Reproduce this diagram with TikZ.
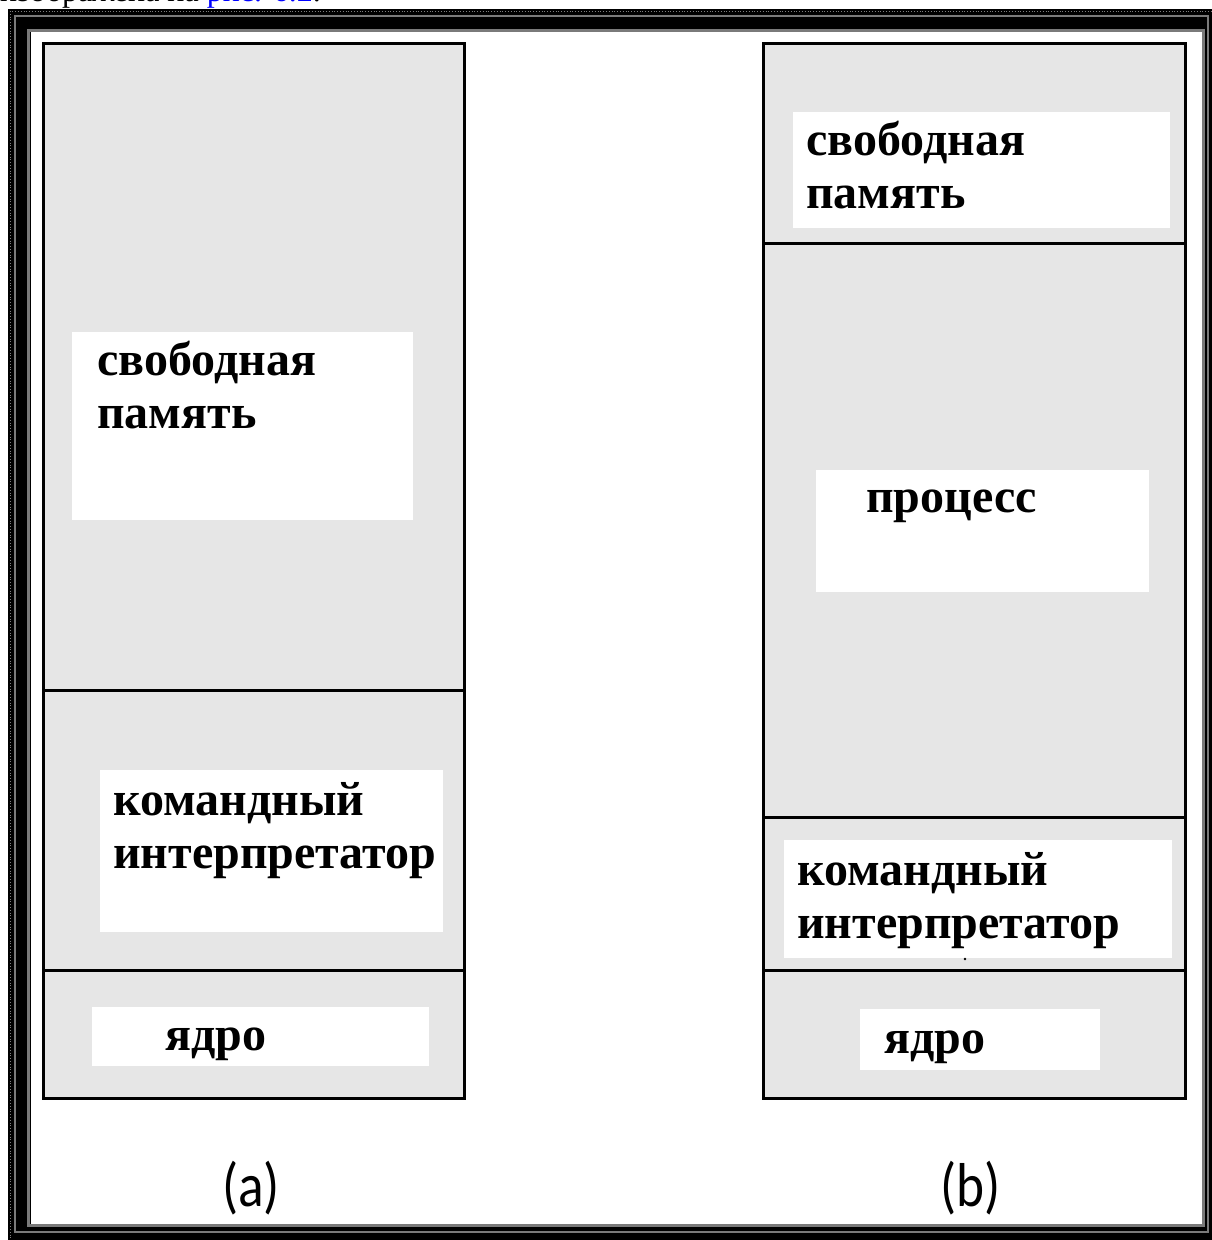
\documentclass[tikz,border=0pt]{standalone}
\usepackage{fontspec}
\setmainfont{Liberation Serif}
\newfontfamily\capfont{Carlito}
\begin{document}
\begin{tikzpicture}[x=1pt,y=-1pt,
  column/.style={draw=black,line width=3pt,fill=memgray},
  divider/.style={draw=black,line width=3pt},
  label/.style={fill=white,inner sep=0pt},
  word/.style={anchor=base west,inner sep=0pt,font=\fontsize{48}{53}\selectfont\bfseries},
  caption/.style={anchor=center,inner sep=0pt,font=\capfont\fontsize{62}{66}\selectfont}]
\definecolor{memgray}{HTML}{E6E6E6}
\definecolor{framegray}{HTML}{7A7A7A}
\useasboundingbox (0,0) rectangle (1212,1240);
\fill[white] (0,0) rectangle (1212,1240);

% line of running text above the frame, cut by the page edge
\begin{scope}
  \clip (0,0) rectangle (1212,8.5);
  \node[anchor=base west,inner sep=0pt,font=\fontsize{32}{36}\selectfont] (runtext) at (0,1.5)
    {изображена на \textcolor{blue}{\underline{рис. 6.2}}.};
\end{scope}

% heavy double frame
\fill[black] (8,9) rectangle (1212,1240);
\draw[framegray,line width=2pt] (15,16) rectangle (1207.5,1232);
\draw[framegray,line width=3pt] (28.5,30) rectangle (1203,1225.5);
\fill[white] (31,32) rectangle (1202,1224);
\draw[gray,dotted,line width=0.8pt] (9.5,11) -- (1212,11);
\draw[gray,dotted,line width=0.8pt] (10,11) -- (10,1240);

% (a) memory layout
\draw[column] (43,43) rectangle (464,1098);
\draw[divider] (43,690) -- (464,690);
\draw[divider] (43,970) -- (464,970);
\fill[label] (72,332) rectangle (413,520);
\fill[label] (100,770) rectangle (443,932);
\fill[label] (92,1007) rectangle (429,1066);
% two-line labels: the base anchor sits on the last line
\node[word,align=left] (afree) at (97,428) {свободная\\память};
\node[word,align=left] (ashell) at (113,868) {командный\\интерпретатор};
\node[word] (akernel) at (165,1050) {ядро};

% (b) memory layout
\draw[column] (763,43) rectangle (1185,1098);
\draw[divider] (763,243) -- (1185,243);
\draw[divider] (763,817) -- (1185,817);
\draw[divider] (763,970) -- (1185,970);
\fill[label] (793,112) rectangle (1170,228);
\fill[label] (816,470) rectangle (1149,592);
\fill[label] (784,840) rectangle (1172,958);
\fill[label] (860,1009) rectangle (1100,1070);
\node[word,align=left] (bfree) at (806,208) {свободная\\память};
\node[word] (bproc) at (866,512) {процесс};
\node[word,align=left] (bshell) at (797,938) {командный\\интерпретатор};
\node[word] (bkernel) at (884,1053) {ядро};
\fill[black] (965,959) circle (1.3);

% captions
\node[caption] (capa) at (251,1188) {\scalebox{0.86}[1]{(a)}};
\node[caption] (capb) at (971,1188) {\scalebox{0.86}[1]{(b)}};
\end{tikzpicture}
\end{document}
